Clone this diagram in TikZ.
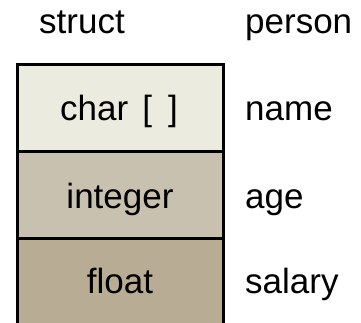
\documentclass[tikz,border=0pt]{standalone}
\usepackage{fontspec}
\setmainfont{Liberation Sans}
\definecolor{cellA}{HTML}{EBEBDF}
\definecolor{cellB}{HTML}{C8C1AF}
\definecolor{cellC}{HTML}{B9AC95}
\begin{document}
\begin{tikzpicture}[x=1pt,y=-1pt,
  lbl/.style={anchor=base,inner sep=0pt,font=\fontsize{35}{40}\selectfont},
  side/.style={lbl,anchor=base west},
  cell/.style={inner sep=0pt,minimum width=206.5pt,anchor=north west},
  rule/.style={line width=3pt}]
\useasboundingbox (0,0) rectangle (361,322);
% field cells (the bottom one runs past the lower edge)
\node[cell,fill=cellA,minimum height=87pt] (c1) at (17,64.5) {};
\node[cell,fill=cellB,minimum height=86.5pt] (c2) at (17,151.5) {};
\node[cell,fill=cellC,minimum height=90pt] (c3) at (17,238) {};
% outline: top, dividers and sides; no closing line at the bottom
\draw[rule,line cap=rect] (c3.south west) -- (c1.north west) -- (c1.north east) -- (c3.south east);
\draw[rule] (c1.south west) -- (c1.south east);
\draw[rule] (c2.south west) -- (c2.south east);
% headings
\node[lbl] (kw) at (82,33) {struct};
\node[side] (tn) at (245,33) {person};
% field types
\node[lbl] (t1) at (119,120.5) {char\hspace{14pt}[\hspace{16pt}]};
\node[lbl] (t2) at (120,208) {integer};
\node[lbl] (t3) at (120,293) {float};
% field names
\node[side] (n1) at (245,120.5) {name};
\node[side] (n2) at (245,208) {age};
\node[side] (n3) at (245,293) {salary};
\end{tikzpicture}
\end{document}
